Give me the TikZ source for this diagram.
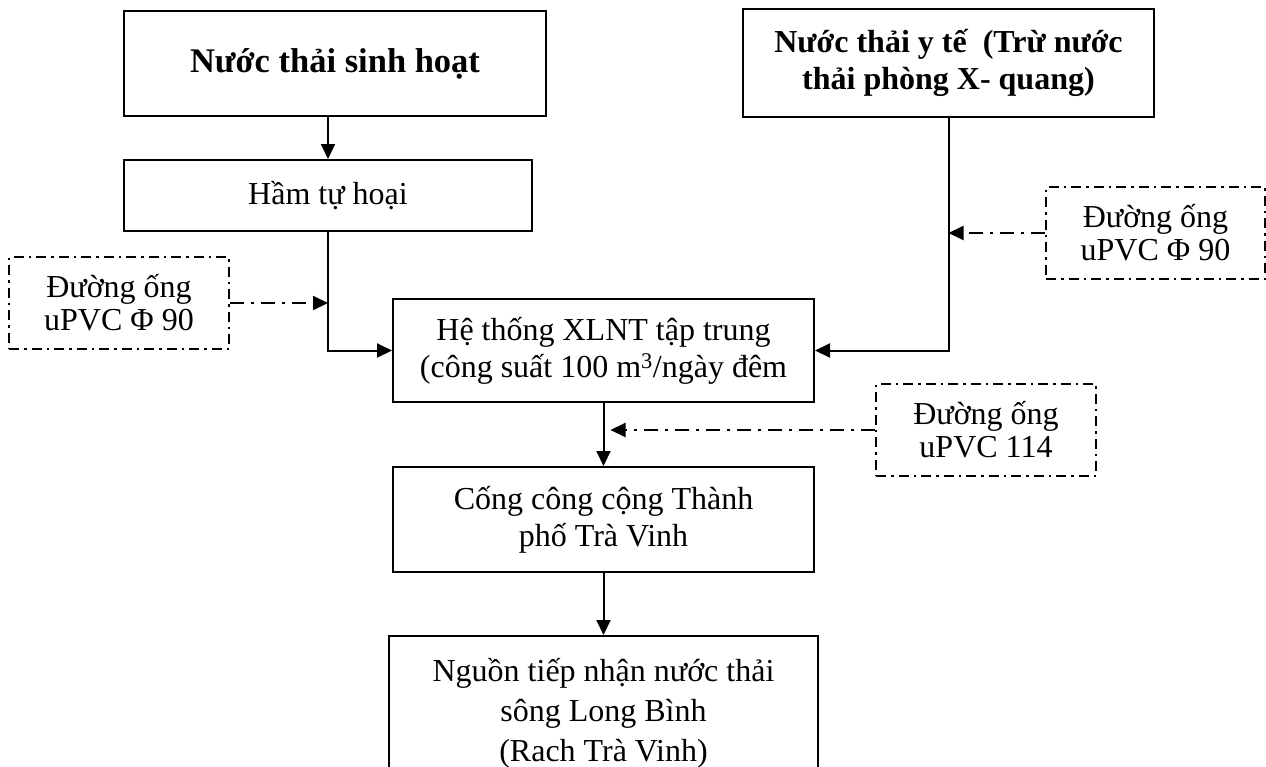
\documentclass[tikz,border=0pt]{standalone}
\usepackage{fontspec}
\setmainfont{Liberation Serif}
\usetikzlibrary{arrows.meta}
\begin{document}
\begin{tikzpicture}[x=1pt,y=-1pt,
  box/.style={draw,line width=2pt,inner sep=0pt,align=center,
    font=\fontsize{32}{37}\selectfont},
  pipebox/.style={draw,line width=1.5pt,inner sep=0pt,align=center,
    dash pattern=on 10pt off 5pt on 2.5pt off 5pt,
    font=\fontsize{32}{33}\selectfont},
  flow/.style={line width=2pt,-{Triangle[length=15pt,width=14pt]}},
  feed/.style={line width=2pt,dash pattern=on 14pt off 7pt on 3pt off 7pt,
    -{Triangle[length=15pt,width=14pt]}}]
\useasboundingbox (0,0) rectangle (1266,766);
\clip (0,0) rectangle (1266,766);

% sources
\node[box,minimum width=422pt,minimum height=105pt,
  font=\fontsize{34.5}{40}\selectfont] (sh) at (335,63.5)
  {\bfseries Nước thải sinh hoạt};
\node[box,minimum width=408pt,minimum height=71pt] (ham) at (328,195.5)
  {Hầm tự hoại};
\node[box,minimum width=411pt,minimum height=108pt] (yt) at (948.5,63)
  {\bfseries Nước thải y tế\ \ (Trừ nước\\\bfseries thải phòng X- quang)};

% treatment and discharge
\node[box,minimum width=421pt,minimum height=103pt] (xl) at (603.5,350.5)
  {Hệ thống XLNT tập trung\\(công suất 100 m\textsuperscript{3}/ngày đêm};
\node[box,minimum width=421pt,minimum height=105pt] (cg) at (603.5,519.5)
  {Cống công cộng Thành\\phố Trà Vinh};
\node[box,minimum width=429pt,minimum height=170pt,anchor=north] (ng) at (603.5,635)
  {};
\node[font=\fontsize{32}{40}\selectfont,align=center,anchor=north] (ngt) at (603.5,655)
  {Nguồn tiếp nhận nước thải\\sông Long Bình\\(Rach Trà Vinh)};

% pipe labels
\node[pipebox,minimum width=220pt,minimum height=92pt] (pl) at (119,303)
  {Đường ống\\uPVC Φ 90};
\node[pipebox,minimum width=219pt,minimum height=92pt] (pr) at (1155.5,233)
  {Đường ống\\uPVC Φ 90};
\node[pipebox,minimum width=220pt,minimum height=92pt] (pc) at (986,430)
  {Đường ống\\uPVC 114};

% flows
\draw[flow] (ham.north |- sh.south) -- (ham.north);
\draw[flow] (ham.south) |- (xl.west);
\draw[flow] (yt.south) |- (xl.east);
\draw[flow] (xl.south) -- (cg.north);
\draw[flow] (cg.south) -- (ng.north);

% pipe feeds
\draw[feed] (pl.east) -- (pl.east -| ham.south);
\draw[feed] (pr.west) -- (pr.west -| yt.south);
\draw[feed,shorten >=7pt] (pc.west) -- (pc.west -| xl.south);
\end{tikzpicture}
\end{document}
